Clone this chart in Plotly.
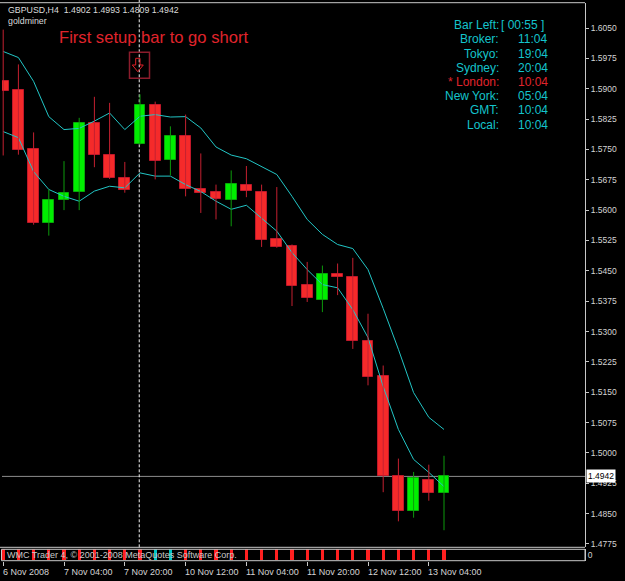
import plotly.graph_objects as go

# ---------------- data ----------------
symbol = "GBPUSD"
timeframe = "H4"
indicator_name = "goldminer"

opens  = [1.5920, 1.5896, 1.5750, 1.5569, 1.5624, 1.5644, 1.5816, 1.5736, 1.5680, 1.5764,
          1.5859, 1.5723, 1.5784, 1.5653, 1.5644, 1.5626, 1.5663, 1.5646, 1.5529, 1.5511,
          1.5414, 1.5379, 1.5443, 1.5435, 1.5276, 1.5190, 1.4943, 1.4856, 1.4934, 1.4902]
highs  = [1.6046, 1.5960, 1.5792, 1.5651, 1.5721, 1.5828, 1.5880, 1.5865, 1.5719, 1.5886,
          1.5868, 1.5807, 1.5836, 1.5740, 1.5663, 1.5698, 1.5709, 1.5663, 1.5657, 1.5515,
          1.5472, 1.5463, 1.5468, 1.5482, 1.5344, 1.5216, 1.4986, 1.4953, 1.4971, 1.4993]
lows   = [1.5735, 1.5737, 1.5564, 1.5537, 1.5600, 1.5600, 1.5706, 1.5677, 1.5643, 1.5762,
          1.5676, 1.5686, 1.5634, 1.5593, 1.5577, 1.5560, 1.5632, 1.5509, 1.5507, 1.5363,
          1.5373, 1.5348, 1.5390, 1.5257, 1.5167, 1.4903, 1.4831, 1.4840, 1.4882, 1.4809]
closes = [1.5894, 1.5748, 1.5567, 1.5625, 1.5643, 1.5816, 1.5736, 1.5680, 1.5649, 1.5859,
          1.5721, 1.5784, 1.5653, 1.5643, 1.5628, 1.5665, 1.5647, 1.5527, 1.5509, 1.5412,
          1.5382, 1.5443, 1.5434, 1.5276, 1.5188, 1.4943, 1.4856, 1.4937, 1.4900, 1.4942]

upper_band = [1.5992, 1.5977, 1.5918, 1.5831, 1.5799, 1.5802, 1.5820, 1.5840, 1.5799, 1.5832,
              1.5836, 1.5830, 1.5831, 1.5803, 1.5756, 1.5736, 1.5727, 1.5707, 1.5688, 1.5634,
              1.5577, 1.5540, 1.5515, 1.5505, 1.5453, 1.5357, 1.5256, 1.5149, 1.5088, 1.5058]
lower_band = [1.5794, 1.5779, 1.5695, 1.5651, 1.5634, 1.5622, 1.5647, 1.5659, 1.5655, 1.5692,
              1.5684, 1.5684, 1.5663, 1.5646, 1.5622, 1.5602, 1.5612, 1.5581, 1.5548, 1.5495,
              1.5453, 1.5416, 1.5408, 1.5354, 1.5285, 1.5164, 1.5058, 1.4984, 1.4952, 1.4917]

signal = ["S", "S", "S", "S", "S", "S", "S", "S", "S", "S",
          "B", "B", "S", "S", "S", "S", "S", "S", "S", "S",
          "S", "S", "S", "S", "S", "S", "S", "S", "S", "S"]

x_tick_pos = [0, 4, 8, 12, 16, 20, 24, 28]
x_tick_labels = ["6 Nov 2008", "7 Nov 04:00", "7 Nov 20:00", "10 Nov 12:00",
                 "11 Nov 04:00", "11 Nov 20:00", "12 Nov 12:00", "13 Nov 04:00"]
y_ticks = [1.6050, 1.5975, 1.5900, 1.5825, 1.5750, 1.5675, 1.5600, 1.5525, 1.5450,
           1.5375, 1.5300, 1.5225, 1.5150, 1.5075, 1.5000, 1.4925, 1.4850, 1.4775]

setup_bar = 9
setup_text = "First setup bar to go short"

bar_left = "00:55"
session_names = ["Broker:", "Tokyo:", "Sydney:", "* London:", "New York:", "GMT:", "Local:"]
session_times = ["11:04", "19:04", "20:04", "10:04", "05:04", "10:04", "10:04"]
highlight_session = "* London:"

copyright_text = "WMC Trader 4, \u00a9 2001-2008 MetaQuotes Software Corp."

# ---------------- styles ----------------
BG = "#000000"
RED = "#F52A2A"
RED_EDGE = "#C0182A"
RED_WICK = "#C42030"
GREEN = "#00EE00"
GREEN_EDGE = "#08A808"
GREEN_WICK = "#0C9A0C"
CYAN_LINE = "#22C5C5"
CYAN_TEXT = "#14C4CC"
TXT_RED = "#E0242C"
FRAME = "#C8C8C8"
AXTXT = "#D4D4D4"
FONT = "Liberation Sans"

W, H = 625, 581
ML, MR, MT, MB = 2, 40, 3, 20


def px_x(px):
    return (px - ML) / (W - ML - MR)


def px_y(py):
    return (H - MB - py) / (H - MT - MB)


main_bottom = px_y(547.3)
sub_lo, sub_hi = px_y(560.7), px_y(549.3)
x_range = [-0.079, 38.276]
y_range = [1.476682, 1.611177]

idx = list(range(len(opens)))
bull = [c >= o for o, c in zip(opens, closes)]

fig = go.Figure()

# indicator bands
fig.add_trace(go.Scatter(x=idx, y=upper_band, mode="lines",
                         line=dict(color=CYAN_LINE, width=1), hoverinfo="skip"))
fig.add_trace(go.Scatter(x=idx, y=lower_band, mode="lines",
                         line=dict(color=CYAN_LINE, width=1), hoverinfo="skip"))

# wicks
for want_bull, col in ((False, RED_WICK), (True, GREEN_WICK)):
    wx, wy = [], []
    for i in idx:
        if bull[i] == want_bull:
            wx += [i, i, None]
            wy += [lows[i], highs[i], None]
    fig.add_trace(go.Scatter(x=wx, y=wy, mode="lines",
                             line=dict(color=col, width=1), hoverinfo="skip"))

# bodies
fig.add_trace(go.Bar(
    x=idx,
    y=[abs(c - o) for o, c in zip(opens, closes)],
    base=[min(o, c) for o, c in zip(opens, closes)],
    width=0.7,
    marker=dict(color=[GREEN if b else RED for b in bull],
                line=dict(color=[GREEN_EDGE if b else RED_EDGE for b in bull], width=1)),
    hoverinfo="skip"))

# sub window histogram
fig.add_trace(go.Bar(
    x=idx, y=[2] * len(idx), base=[-1] * len(idx), width=0.2,
    marker=dict(color=["#00C4C4" if s == "B" else "#FF2020" for s in signal], line=dict(width=0)),
    xaxis="x2", yaxis="y2", hoverinfo="skip"))

shapes = []
# current price line
shapes.append(dict(type="line", xref="paper", yref="y", x0=0, x1=1, layer="below",
                   y0=closes[-1], y1=closes[-1], line=dict(color="#8C8C8C", width=1)))
# setup bar dashed vertical line
shapes.append(dict(type="line", xref="x", yref="paper", x0=setup_bar - 0.05, x1=setup_bar - 0.05,
                   y0=main_bottom, y1=px_y(0), layer="below",
                   line=dict(color="#F0F0F0", width=1, dash="3px,2px")))
# frame
shapes.append(dict(type="line", xref="paper", yref="paper", x0=px_x(0), x1=1, y0=px_y(2.7), y1=px_y(2.7),
                   line=dict(color=FRAME, width=1)))
shapes.append(dict(type="line", xref="paper", yref="paper", x0=px_x(0), x1=1, y0=main_bottom, y1=main_bottom,
                   line=dict(color=FRAME, width=1)))
shapes.append(dict(type="rect", xref="paper", yref="paper", x0=px_x(1.5), x1=1, y0=sub_lo, y1=sub_hi,
                   line=dict(color=FRAME, width=1)))
# arrow box
shapes.append(dict(type="rect", xref="paper", yref="paper", x0=px_x(129.5), x1=px_x(149.5),
                   y0=px_y(78.3), y1=px_y(52.3), line=dict(color="#8C1C2C", width=1.5)))
arrow_pts = [(135.7, 58.3), (140.0, 58.3), (140.0, 65.0), (143.3, 65.0), (137.8, 71.7),
             (132.3, 65.0), (135.7, 65.0)]
path = "M " + " L ".join(f"{px_x(a):.5f},{px_y(b):.5f}" for a, b in arrow_pts) + " Z"
shapes.append(dict(type="path", xref="paper", yref="paper", path=path,
                   line=dict(color="#E02028", width=1)))

annotations = []


def ann(text, x, y, xanchor="left", size=9, color=AXTXT, xref="paper", **kw):
    annotations.append(dict(text=text, x=x, y=y, xref=xref, yref="paper", xanchor=xanchor,
                            yanchor="middle", showarrow=False,
                            font=dict(family=FONT, size=size, color=color), **kw))


# header
header = (f"{symbol},{timeframe}\u00a0\u00a0{opens[-1]:.4f} {highs[-1]:.4f} "
          f"{lows[-1]:.4f} {closes[-1]:.4f}")
ann(header, px_x(6), px_y(10), size=8.8, color="#DADADA")
ann(indicator_name, px_x(6), px_y(20.5), size=8.8, color="#DADADA")
ann(setup_text, px_x(153.7), px_y(37), xanchor="center", size=16.6, color=TXT_RED)

# info panel
ann("Bar Left:", px_x(500.5), px_y(25), xanchor="right", size=12, color=CYAN_TEXT)
ann(f"[ {bar_left} ]", px_x(499), px_y(25), xanchor="left", size=12, color=CYAN_TEXT)
for k, (nm, tm) in enumerate(zip(session_names, session_times)):
    col = TXT_RED if nm == highlight_session else CYAN_TEXT
    yy = px_y(39.3 + 14.2 * k)
    ann(nm, px_x(500.5), yy, xanchor="right", size=12, color=col)
    ann(tm, px_x(515.5), yy, xanchor="left", size=12, color=col)

# x tick labels (left aligned at tick, like MT4)
for p, t in zip(x_tick_pos, x_tick_labels):
    ann(t, p, px_y(571.5), xanchor="left", size=9, color=AXTXT, xref="x", xshift=-2.5)

# copyright in sub-window
ann(copyright_text, px_x(5), px_y(555), size=9, color="#C8C8C8")

# current price label
annotations.append(dict(text=f"{closes[-1]:.4f}", x=1, y=closes[-1], xref="paper", yref="y",
                        xanchor="left", yanchor="middle", xshift=1, showarrow=False,
                        bgcolor="#FFFFFF", borderpad=1,
                        font=dict(family=FONT, size=8.5, color="#000000")))

fig.update_layout(
    width=W, height=H,
    margin=dict(l=ML, r=MR, t=MT, b=MB, pad=0),
    paper_bgcolor=BG, plot_bgcolor=BG,
    showlegend=False, barmode="overlay", bargap=0,
    xaxis=dict(domain=[0, 1], range=x_range, anchor="y", showticklabels=False,
               showgrid=False, zeroline=False, ticks="", showline=False),
    yaxis=dict(domain=[main_bottom, 1], range=y_range, side="right",
               tickvals=y_ticks, ticktext=[f"{v:.4f}" for v in y_ticks],
               ticks="outside", ticklen=3, tickcolor=FRAME, tickwidth=1,
               tickfont=dict(family=FONT, size=8.5, color=AXTXT),
               showgrid=False, zeroline=False, showline=True, linecolor=FRAME, linewidth=1),
    xaxis2=dict(domain=[0, 1], range=x_range, anchor="y2", tickvals=x_tick_pos,
                ticks="outside", ticklen=4, tickcolor=FRAME, showticklabels=False,
                showgrid=False, zeroline=False, showline=False),
    yaxis2=dict(domain=[sub_lo, sub_hi], range=[-1.08, 1.08], side="right",
                tickvals=[0], ticktext=["0"], ticks="",
                tickfont=dict(family=FONT, size=8.5, color=AXTXT),
                showgrid=False, zeroline=False, showline=True, linecolor=FRAME, linewidth=1),
    shapes=shapes,
    annotations=annotations,
)

fig.write_html("out.html", config={"displayModeBar": False})
